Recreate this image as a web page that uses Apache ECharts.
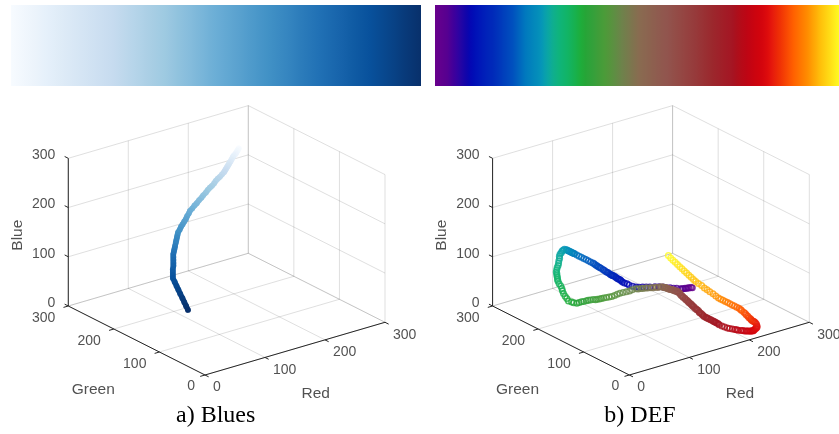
<!DOCTYPE html>
<html><head><meta charset="utf-8">
<style>html,body{margin:0;padding:0;background:#fff}#c{width:839px;height:434px}</style>
<script src="https://cdn.jsdelivr.net/npm/echarts@6/dist/echarts.min.js"></script>
</head><body><div id="c"></div>
<script>
// RGB colour maps (index order = colour bar left to right)
const bluesMap = [
[247,251,255],[244,249,254],[241,247,253],[238,245,252],[235,243,251],[231,241,251],[228,239,250],[225,237,248],
[222,235,247],[219,233,246],[216,231,245],[213,229,244],[210,227,243],[207,225,242],[204,223,241],[201,221,240],
[198,219,239],[193,217,237],[188,215,235],[183,213,234],[178,211,232],[173,208,230],[168,206,228],[163,204,227],
[158,202,225],[152,198,224],[145,195,222],[139,191,221],[133,188,220],[126,184,218],[120,181,217],[113,177,215],
[107,174,214],[102,170,212],[97,167,210],[92,163,208],[87,160,206],[81,156,204],[76,153,202],[71,149,200],
[66,146,198],[62,142,196],[58,138,194],[54,134,192],[50,130,190],[45,125,187],[41,121,185],[37,117,183],
[33,113,181],[30,109,178],[27,105,175],[24,101,172],[21,97,169],[17,93,165],[14,89,162],[11,85,159],
[8,81,156],[8,77,150],[8,73,144],[8,69,138],[8,65,132],[8,60,125],[8,56,119],[8,52,113],[8,48,107]];
const defMap = [
[105,0,140],[103,0,141],[100,0,141],[98,0,142],[95,0,142],[93,0,143],[90,0,143],[88,0,144],
[85,0,145],[79,0,148],[74,0,150],[68,0,153],[62,0,155],[57,1,158],[51,2,160],[45,3,162],[38,5,163],[32,5,165],[26,5,167],[20,5,169],[15,5,171],[10,6,174],[5,7,178],
[3,9,180],[1,12,181],[0,15,182],[0,18,183],[0,20,184],[0,23,184],[0,25,184],[0,28,184],[0,30,185],[0,33,185],[0,35,185],[0,37,185],[0,39,185],
[0,40,185],[0,43,185],[0,46,186],[0,49,186],[0,52,186],[0,55,187],[0,58,187],[0,62,188],[0,65,188],[0,68,188],[0,71,189],[0,74,189],[0,77,190],
[0,80,190],[0,85,190],[0,90,190],[0,95,190],[0,100,190],[0,105,190],[0,110,190],[0,115,190],
[0,120,190],[1,123,189],[1,126,189],[2,128,188],[2,131,188],[3,134,187],[3,137,187],[4,139,186],[4,142,186],
[5,145,185],[5,149,184],[6,153,180],[8,158,175],[9,161,170],
[10,165,165],[11,168,159],[13,170,153],[14,173,146],
[15,175,140],[15,176,135],[15,178,130],[15,179,125],
[15,180,120],[16,180,116],[16,180,112],[17,180,108],[17,180,104],
[18,180,100],[19,179,95],[21,178,90],[22,177,85],[23,177,80],
[24,176,75],[26,175,69],[28,174,64],[30,173,59],[33,170,57],[35,168,56],
[38,165,55],[41,164,56],[44,163,57],[47,162,57],[50,160,58],[53,160,58],[56,159,58],
[60,158,58],[63,157,57],[66,157,57],[69,156,57],[72,156,57],[75,155,57],[78,153,58],[81,151,59],
[84,149,60],[87,147,62],[90,145,64],[93,143,66],[96,140,68],[100,138,69],[103,135,71],[106,133,73],
[110,130,75],[112,128,75],[115,126,76],[117,124,76],[120,122,77],[122,120,77],[125,117,78],[127,115,78],[130,113,79],[132,111,79],[135,109,80],
[137,107,80],[137,106,80],[138,104,80],[138,103,80],[139,102,80],[139,100,80],[140,99,79],[140,98,79],[141,96,79],[141,95,79],[142,94,79],[142,92,79],[143,91,79],[143,90,78],[144,88,78],[144,87,78],[145,86,78],
[145,85,78],[145,84,77],[146,82,76],[146,81,75],[146,79,73],[147,78,72],[147,76,71],[147,75,70],[148,73,69],[148,72,68],[148,70,67],[149,69,66],[149,67,65],[149,66,64],[149,64,63],[150,63,62],[150,61,61],
[150,60,60],[150,58,59],[151,57,58],[151,55,56],[152,53,55],[152,52,54],[153,50,53],[153,48,51],[153,47,50],[154,45,49],[154,43,48],[155,42,46],
[155,40,45],[156,38,44],[157,37,43],[157,35,43],[158,34,42],[159,32,41],[160,31,40],[161,29,39],[162,28,38],[162,26,38],[163,25,37],[164,24,36],[165,22,35],
[165,20,34],[168,18,31],[171,16,29],[174,14,27],[177,13,25],[180,11,24],[183,9,23],[185,8,22],[187,7,21],
[190,5,20],[193,5,19],[195,4,18],[198,4,17],[200,4,16],[203,4,15],[205,4,14],[207,4,14],[209,4,13],[211,5,13],
[213,6,13],[216,8,13],[219,10,12],[222,12,12],[225,16,12],[228,21,12],[230,26,12],[232,31,11],[234,36,9],[236,41,7],[238,46,6],
[240,50,5],[242,56,4],[244,61,4],[246,67,3],[248,72,3],[250,78,2],[251,84,2],[253,89,1],
[255,95,0],[255,100,0],[255,105,0],[255,110,0],[255,115,0],[255,120,0],[255,125,0],[255,130,0],[255,135,0],
[255,140,0],[255,146,1],[255,152,3],[255,159,4],[255,165,5],[255,171,6],[255,177,8],[255,184,9],
[255,190,10],[255,195,12],[255,200,14],[255,205,16],[255,210,18],[255,215,20],[255,220,22],[255,225,24],[255,230,26],[255,235,28],[255,240,30],[255,245,32],[255,250,35]];
const tickValues = [0, 100, 200, 300];
const captions = ['a) Blues', 'b) DEF'];
const axisNames = ['Red', 'Green', 'Blue'];

// fixed 3-D view of the RGB cube, in screen units per colour unit
const view = {rx: 0.6, ry: -0.1757, gx: -0.4557, gy: -0.23, bx: 0, by: -0.4923, oy: 375};
const panelOrigins = [205, 629.3];
const css = c => `rgb(${c[0]},${c[1]},${c[2]})`;
const project = (ox, r, g, b) => [ox + r*view.rx + g*view.gx + b*view.bx, view.oy + r*view.ry + g*view.gy + b*view.by];

const MAX = 300;
function gridLines(ox) {
  const out = [], seg = (a, b) => out.push(project(ox, ...a), project(ox, ...b), ['-', '-']);
  for (const t of tickValues) {
    seg([t,0,0],[t,MAX,0]); seg([0,t,0],[MAX,t,0]);
    seg([t,MAX,0],[t,MAX,MAX]); seg([0,MAX,t],[MAX,MAX,t]);
    seg([MAX,t,0],[MAX,t,MAX]); seg([MAX,0,t],[MAX,MAX,t]);
  }
  return out;
}
function axisLines(ox) {
  const out = [], seg = (a, b) => out.push(project(ox, ...a), project(ox, ...b), ['-', '-']);
  seg([0,0,0],[MAX,0,0]); seg([0,0,0],[0,MAX,0]); seg([0,MAX,0],[0,MAX,MAX]);
  const tick = 8;
  for (const t of tickValues) {
    seg([t,0,0],[t,-tick,0]);
    seg([0,t,0],[-tick,t,0]);
    seg([0,MAX,t],[0,MAX+tick,t]);
  }
  return out;
}
function textLayer(ox) {
  const tickFont = {fontFamily: 'Liberation Sans', fontSize: 14, color: '#262626'};
  const nameFont = {fontFamily: 'Liberation Sans', fontSize: 15.5, color: '#262626'};
  const d = [];
  const add = (pos, text, align, off, font, rotate) => d.push({value: project(ox, ...pos), label: {show: true, position: 'inside', formatter: text, align, verticalAlign: 'middle', offset: off, rotate: rotate || 0, ...font}});
  for (const t of tickValues) {
    add([t,0,0], String(t), 'left', [8, 12.5], tickFont);
    add([0,t,0], String(t), 'right', [t === 0 ? -10 : -13, t === 0 ? 11 : 12], tickFont);
    add([0,MAX,t], String(t), 'right', [-13, -3], tickFont);
  }
  add([MAX/2,0,0], axisNames[0], 'center', [20.7, 44.6], nameFont);
  add([0,MAX/2,0], axisNames[1], 'center', [-43.4, 48.8], nameFont);
  add([0,MAX,MAX/2], axisNames[2], 'center', [-3, -51], nameFont, 90);
  return {type: 'scatter', xAxisIndex: 2, yAxisIndex: 2, symbolSize: 0, silent: true, data: d, z: 5};
}
const lineSeries = (data, color, z) => ({type: 'line', xAxisIndex: 2, yAxisIndex: 2, data, symbol: 'none', silent: true, z, connectNulls: false, lineStyle: {color, width: 1}});
function curve(ox, map, size, width) {
  return {type: 'scatter', xAxisIndex: 2, yAxisIndex: 2, symbol: 'circle', symbolSize: size, silent: true, z: 4,
    data: map.map(c => ({value: project(ox, ...c), itemStyle: {color: 'rgba(0,0,0,0)', borderColor: css(c), borderWidth: width}}))};
}
// the Blues path falls steadily down the screen, so one vertical gradient colours a continuous ribbon under its markers
function ribbon(ox, map, width) {
  const pts = map.map(c => project(ox, ...c));
  const y0 = pts[0][1], y1 = pts[pts.length-1][1];
  const stops = map.map((c, k) => ({offset: (pts[k][1]-y0)/(y1-y0), color: css(c)}));
  return {type: 'line', xAxisIndex: 2, yAxisIndex: 2, data: pts, symbol: 'none', silent: true, z: 3,
    lineStyle: {width, cap: 'round', join: 'round', color: new echarts.graphic.LinearGradient(0, y0, 0, y1, stops, true)}};
}
function strip(i, map) {
  const stops = map.map((c, k) => ({offset: k/(map.length-1), color: css(c)}));
  return {type: 'bar', xAxisIndex: i, yAxisIndex: i, barWidth: '100%', silent: true, data: [1],
    itemStyle: {color: new echarts.graphic.LinearGradient(0, 0, 1, 0, stops)}};
}

const chart = echarts.init(document.getElementById('c'), null, {renderer: 'canvas'});
chart.setOption({
  animation: false,
  backgroundColor: '#fff',
  title: captions.map((text, i) => ({text, left: panelOrigins[i] + 10.7, top: 404, textAlign: 'center',
    textStyle: {fontFamily: 'Liberation Serif', fontSize: 24, fontWeight: 'normal', color: '#000'}, padding: 0})),
  grid: [
    {left: 11, top: 5, width: 410, height: 81},
    {left: 435, top: 5, width: 404, height: 81},
    {left: 0, top: 0, width: 839, height: 434}
  ],
  xAxis: [
    {gridIndex: 0, type: 'category', data: ['Blues'], show: false},
    {gridIndex: 1, type: 'category', data: ['DEF'], show: false},
    {gridIndex: 2, type: 'value', min: 0, max: 839, show: false}
  ],
  yAxis: [
    {gridIndex: 0, type: 'value', min: 0, max: 1, show: false},
    {gridIndex: 1, type: 'value', min: 0, max: 1, show: false},
    {gridIndex: 2, type: 'value', min: 0, max: 434, inverse: true, show: false}
  ],
  series: [
    strip(0, bluesMap), strip(1, defMap),
    ...panelOrigins.flatMap((ox, i) => [
      lineSeries(gridLines(ox), 'rgba(38,38,38,0.15)', 1),
      lineSeries(axisLines(ox), '#262626', 2),
      ...(i === 0 ? [ribbon(ox, bluesMap, 5.5), curve(ox, bluesMap, 3.5, 2.4)] : [curve(ox, defMap, 5.5, 1.5)]),
      textLayer(ox)
    ])
  ]
});
</script></body></html>
